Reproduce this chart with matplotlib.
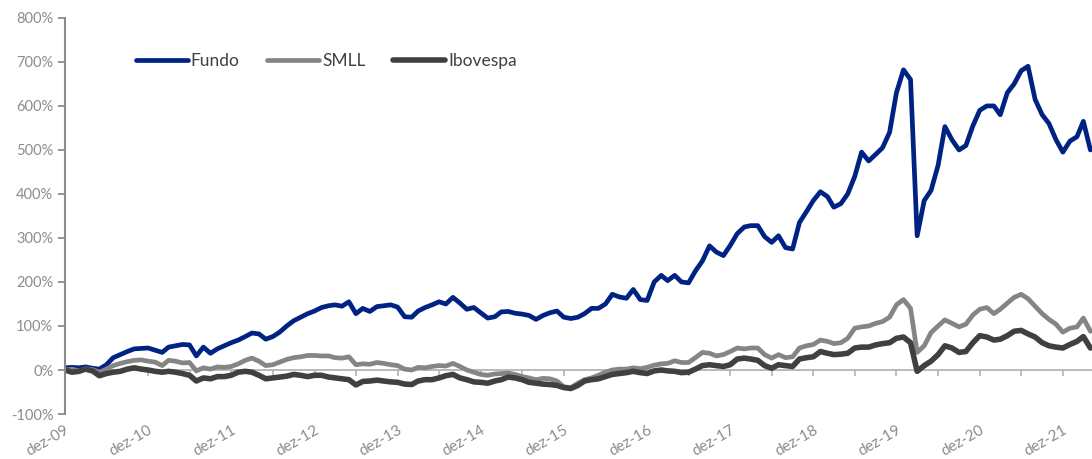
import matplotlib
matplotlib.use("Agg")
import matplotlib.pyplot as plt
import pandas as pd

# retorno acumulado mensal (%), dez-09 a abr-22
fundo = [5, 6, 5, 7, 4, 2, 12, 28, 35, 42, 48, 49,
         50, 45, 40, 52, 55, 58, 57, 32, 52, 38, 48, 55,
         62, 68, 76, 84, 82, 70, 76, 86, 100, 112, 120, 128,
         134, 142, 146, 148, 145, 155, 128, 140, 133, 144, 146, 148,
         143, 121, 120, 134, 142, 148, 155, 150, 165, 152, 138, 142,
         130, 118, 121, 132, 133, 129, 127, 124, 115, 124, 130, 134,
         120, 117, 120, 128, 140, 140, 150, 172, 166, 163, 183, 160,
         158, 200, 215, 203, 215, 200, 198, 225, 248, 282, 268, 260,
         283, 310, 325, 328, 328, 303, 290, 305, 278, 275, 335, 360,
         385, 405, 394, 370, 378, 400, 440, 495, 475, 490, 505, 540,
         630, 682, 660, 305, 385, 408, 465, 553, 523, 500, 510, 555,
         590, 600, 600, 580, 630, 650, 680, 690, 615, 580, 560, 523,
         495, 520, 530, 565, 500]
smll = [0, 2, -2, 3, 1, -5, 2, 10, 15, 19, 22, 23,
        20, 18, 10, 22, 20, 16, 17, -2, 5, 2, 7, 6,
        8, 14, 22, 27, 20, 10, 12, 18, 24, 28, 30, 33,
        33, 32, 32, 28, 27, 30, 12, 14, 13, 17, 15, 12,
        10, 2, 0, 6, 5, 8, 10, 9, 15, 8, 0, -5,
        -10, -12, -9, -8, -7, -10, -15, -18, -22, -19, -20, -25,
        -38, -40, -30, -22, -18, -12, -5, 0, 2, 2, 5, 3,
        6, 11, 14, 15, 21, 17, 17, 28, 40, 38, 32, 35,
        42, 50, 48, 50, 50, 35, 27, 35, 28, 30, 50, 55,
        58, 68, 65, 60, 62, 72, 95, 98, 100, 106, 110, 120,
        148, 160, 140, 40, 55, 85, 100, 114, 106, 98, 104, 125,
        138, 142, 128, 138, 152, 165, 172, 162, 145, 128, 115, 104,
        86, 95, 98, 118, 88]
ibov = [0, -5, -3, 2, -2, -13, -8, -5, -3, 2, 5, 2,
        0, -3, -5, -3, -5, -8, -12, -25, -18, -20, -15, -15,
        -12, -5, -3, -5, -12, -20, -18, -16, -14, -10, -12, -15,
        -12, -12, -16, -18, -20, -22, -34, -26, -25, -23, -25, -27,
        -28, -32, -33, -25, -22, -22, -18, -13, -10, -18, -22, -27,
        -28, -30, -25, -22, -16, -18, -22, -28, -30, -32, -33, -35,
        -40, -42, -35, -25, -22, -20, -15, -10, -8, -6, -3, -6,
        -8, -2, 0, -2, -3, -6, -5, 2, 10, 12, 10, 8,
        12, 25, 27, 25, 22, 10, 4, 12, 10, 8, 25, 28,
        30, 42, 38, 35, 36, 38, 50, 52, 52, 57, 60, 62,
        72, 75, 62, -3, 10, 20, 35, 55, 50, 40, 42, 62,
        78, 75, 68, 70, 78, 88, 90, 82, 75, 62, 55, 52,
        50, 58, 65, 76, 50]
datas = pd.date_range("2009-12-01", periods=len(fundo), freq="MS")

cinza = "#8c8c8c"
plt.rcParams["font.family"] = ["Lato", "DejaVu Sans"]

fig = plt.figure(figsize=(10.92, 4.59), dpi=100)
ax = fig.add_axes([0.0595, 0.098, 0.9405, 0.863])

ax.plot(datas, fundo, color="#002383", lw=3.4, label="Fundo", solid_capstyle="round")
ax.plot(datas, smll, color="#858585", lw=3.4, label="SMLL", solid_capstyle="round")
ax.plot(datas, ibov, color="#404040", lw=4.0, label="Ibovespa", solid_capstyle="round")

ax.set_ylim(-100, 800)
ax.set_yticks(range(-100, 801, 100))
ax.set_yticklabels([f"{v}%" for v in range(-100, 801, 100)])
ax.set_xlim(pd.Timestamp("2009-12-01"), pd.Timestamp("2022-04-08"))

ticks = pd.date_range("2009-12-01", "2022-03-01", freq="6MS")
ax.set_xticks(ticks)
ax.set_xticklabels([f"dez-{t.year % 100:02d}" if t.month == 12 else "" for t in ticks])

for s in ["top", "right"]:
    ax.spines[s].set_visible(False)
ax.spines["bottom"].set_position(("data", 0))
ax.spines["bottom"].set_color("#b4b4b4")
ax.spines["bottom"].set_linewidth(1.3)
ax.spines["left"].set_color(cinza)
ax.spines["left"].set_linewidth(1.5)
ax.spines["bottom"].set_zorder(0)

ax.tick_params(axis="y", colors=cinza, labelcolor=cinza, length=5, width=1.3, labelsize=10.5)
ax.tick_params(axis="x", colors="#b4b4b4", labelcolor=cinza, length=4, width=1.2,
               labelsize=11, pad=34)
for lbl in ax.get_xticklabels():
    lbl.set_rotation(30)
    lbl.set_ha("right")
    lbl.set_rotation_mode("anchor")

ax.legend(loc="upper left", bbox_to_anchor=(0.054, 0.95), ncol=3, frameon=False,
          fontsize=12.5, handlelength=3.0, handletextpad=0.15, columnspacing=1.6,
          labelcolor="#404040")

fig.savefig("out.png", dpi=100)
